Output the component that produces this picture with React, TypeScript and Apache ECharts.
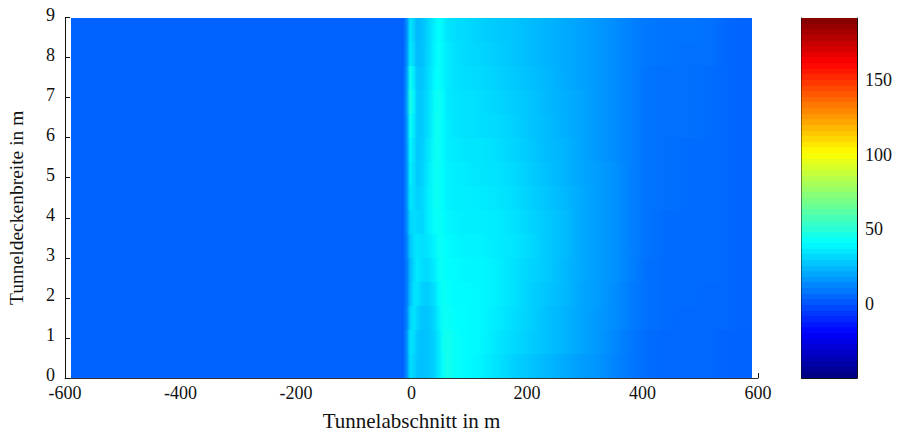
import React, { useEffect, useRef } from "react";
import * as echarts from "echarts";

// Station along the tunnel (m): field values are read at these positions
const stations = [-590, -22, -15, -8, -2, 4, 10, 18, 28, 40, 47, 55, 62, 75, 95, 120, 150, 177, 205, 235, 265, 292, 320, 350, 380, 408, 440, 480, 522, 545, 590];
// Band centres over the tunnel ceiling width (m), top to bottom
const widths = [8.7, 8.1, 7.5, 6.9, 6.3, 5.7, 5.1, 4.5, 3.9, 3.3, 2.7, 2.1, 1.5, 0.9, 0.3];
const bandHalf = 0.3;

const row87 = [4, 4, 3, 14, 35, 30, 24, 26, 31, 38, 41, 38, 35, 33, 32, 30, 28, 27, 25, 23, 21, 19, 17, 14, 11, 9, 8, 8, 7, 5, 4];
const row81 = [4, 4, 3, 15, 36, 31, 25, 26, 31, 39, 42, 39, 36, 34, 32, 31, 29, 27, 25, 23, 21, 19, 17, 14, 11, 9, 8, 7, 7, 5, 4];
const row75 = [4, 4, 3, 18, 44, 36, 27, 27, 32, 40, 42, 39, 36, 34, 33, 32, 30, 28, 26, 24, 21, 19, 17, 14, 11, 8, 7, 7, 6, 5, 4];
const row69 = [4, 4, 3, 19, 47, 38, 28, 28, 33, 42, 44, 40, 36, 35, 34, 33, 31, 29, 27, 24, 22, 20, 17, 14, 11, 8, 7, 7, 6, 5, 4];
const row63 = [4, 4, 3, 17, 43, 36, 28, 28, 33, 43, 44, 40, 37, 35, 34, 33, 32, 30, 27, 25, 22, 20, 17, 14, 11, 8, 7, 7, 6, 5, 4];
const row57 = [4, 4, 3, 16, 39, 34, 28, 29, 35, 43, 44, 40, 37, 36, 35, 35, 33, 31, 28, 25, 23, 20, 17, 14, 11, 8, 7, 6, 6, 5, 4];
const row51 = [4, 4, 3, 15, 37, 33, 28, 30, 36, 43, 43, 40, 38, 37, 36, 35, 34, 32, 29, 26, 23, 20, 18, 15, 11, 8, 7, 6, 6, 5, 4];
const row45 = [4, 4, 3, 15, 35, 33, 30, 31, 37, 43, 43, 40, 38, 37, 37, 36, 35, 33, 30, 27, 24, 21, 18, 15, 11, 8, 7, 6, 6, 5, 4];
const row39 = [4, 4, 3, 14, 31, 33, 32, 31, 37, 42, 43, 41, 39, 38, 37, 37, 36, 34, 31, 28, 25, 21, 18, 15, 11, 8, 6, 6, 6, 5, 4];
const row33 = [4, 4, 3, 12, 27, 33, 35, 33, 35, 39, 43, 42, 40, 39, 38, 38, 36, 35, 32, 28, 25, 21, 18, 15, 11, 8, 6, 6, 6, 5, 4];
const row27 = [4, 4, 3, 10, 24, 32, 36, 33, 32, 37, 42, 43, 41, 40, 39, 39, 37, 34, 31, 28, 24, 21, 18, 15, 11, 7, 6, 6, 6, 5, 4];
const row21 = [4, 4, 3, 10, 25, 34, 35, 30, 29, 34, 40, 43, 42, 40, 40, 39, 37, 34, 30, 27, 24, 20, 18, 14, 10, 7, 6, 6, 5, 5, 4];
const row15 = [4, 4, 3, 12, 30, 35, 31, 27, 27, 32, 38, 43, 43, 41, 40, 39, 36, 33, 30, 26, 23, 20, 17, 14, 10, 7, 6, 5, 5, 5, 4];
const row09 = [4, 4, 3, 15, 34, 33, 28, 26, 27, 31, 36, 43, 45, 42, 40, 39, 35, 32, 29, 26, 23, 20, 17, 13, 9, 6, 5, 5, 5, 4, 4];
const row03 = [4, 4, 3, 14, 33, 31, 27, 26, 27, 31, 36, 42, 46, 42, 40, 38, 34, 30, 27, 24, 21, 18, 16, 12, 9, 6, 5, 5, 5, 4, 4];
const fieldRows = [row87, row81, row75, row69, row63, row57, row51, row45, row39, row33, row27, row21, row15, row09, row03];

const colorbarTicks = [0, 50, 100, 150];
const colorMin = -49.6;
const colorMax = 191.5;
const levelCount = 64;

const xName = "Tunnelabschnitt in m";
const yName = "Tunneldeckenbreite in m";

const FONT = '"Liberation Serif", serif';
const INK = "#111111";

function jet(t: number): string {
  const ramp = (c: number) => Math.round(255 * Math.max(0, Math.min(1, 1.5 - Math.abs(4 * t - c))));
  return `rgb(${ramp(3)},${ramp(2)},${ramp(1)})`;
}
const colorOf = (v: number) => jet((v - colorMin) / (colorMax - colorMin));

// [x0, x1, y0, y1, v0, v1]
const fieldCells: number[][] = [];
fieldRows.forEach((row, r) => {
  for (let i = 0; i < stations.length - 1; i++) {
    fieldCells.push([stations[i], stations[i + 1], widths[r] - bandHalf, widths[r] + bandHalf, row[i], row[i + 1]]);
  }
});
const barCells: number[][] = [];
for (let l = 0; l < levelCount; l++) {
  const step = (colorMax - colorMin) / levelCount;
  barCells.push([colorMin + l * step, colorMin + (l + 1) * step, (l + 0.5) / levelCount]);
}

export default function App() {
  const ref = useRef<HTMLDivElement>(null);
  useEffect(() => {
    document.body.style.margin = "0";
    const chart = echarts.init(ref.current!, undefined, { renderer: "svg" });
    const labelBase = { fontFamily: FONT, fontSize: 18, color: INK, lineHeight: 14 };
    chart.setOption({
      animation: false,
      backgroundColor: "#ffffff",
      grid: [
        { left: 65, top: 17.5, width: 693, height: 360.5, containLabel: false, outerBoundsMode: "none" },
        { left: 801.5, top: 18, width: 55.5, height: 360, containLabel: false, outerBoundsMode: "none" },
      ],
      xAxis: [
        {
          type: "value", gridIndex: 0, min: -600, max: 600, interval: 200,
          splitLine: { show: false },
          axisLine: { show: true, onZero: false, lineStyle: { color: "#333", width: 1 } },
          axisTick: { show: true, inside: true, length: 5, lineStyle: { color: INK } },
          axisLabel: { ...labelBase, margin: 8, showMinLabel: true, showMaxLabel: true, hideOverlap: false },
          name: xName, nameLocation: "middle", nameGap: 33,
          nameTextStyle: { fontFamily: FONT, fontSize: 21, color: INK, lineHeight: 20 },
        },
        {
          type: "value", gridIndex: 1, min: 0, max: 1, position: "bottom",
          splitLine: { show: false },
          axisLine: { show: true, onZero: false, lineStyle: { color: INK } },
          axisTick: { show: false }, axisLabel: { show: false },
        },
        {
          type: "value", gridIndex: 1, min: 0, max: 1, position: "top",
          splitLine: { show: false },
          axisLine: { show: true, onZero: false, lineStyle: { color: "#555" } },
          axisTick: { show: false }, axisLabel: { show: false },
        },
      ],
      yAxis: [
        {
          type: "value", gridIndex: 0, min: 0, max: 9, interval: 1,
          splitLine: { show: false },
          axisLine: { show: true, onZero: false, lineStyle: { color: INK, width: 1 } },
          axisTick: { show: true, inside: true, length: 5, lineStyle: { color: INK } },
          axisLabel: { ...labelBase, margin: 10, lineHeight: 6, verticalAlign: "bottom" },
          name: yName, nameLocation: "middle", nameGap: 39, nameRotate: 90,
          nameTextStyle: { fontFamily: FONT, fontSize: 19.5, color: INK, padding: [0, 20, 0, 0] },
        },
        {
          type: "value", gridIndex: 1, min: colorMin, max: colorMax, position: "right",
          splitLine: { show: false },
          axisLine: { show: true, onZero: false, lineStyle: { color: INK } },
          axisTick: { show: true, inside: true, length: 5, customValues: colorbarTicks, lineStyle: { color: INK } },
          axisLabel: { ...labelBase, margin: 8, customValues: colorbarTicks },
        },
        {
          type: "value", gridIndex: 1, min: colorMin, max: colorMax, position: "left",
          splitLine: { show: false },
          axisLine: { show: true, onZero: false, lineStyle: { color: INK } },
          axisTick: { show: true, inside: true, length: 5, customValues: colorbarTicks, lineStyle: { color: INK } },
          axisLabel: { show: false },
        },
      ],
      series: [
        {
          type: "custom", coordinateSystem: "cartesian2d", xAxisIndex: 0, yAxisIndex: 0,
          silent: true, clip: true,
          data: fieldCells,
          dimensions: ["x0", "x1", "y0", "y1", "v0", "v1"],
          encode: { x: [0, 1], y: [2, 3] },
          renderItem: (_: any, api: any) => {
            const p0 = api.coord([api.value(0), api.value(3)]);
            const p1 = api.coord([api.value(1), api.value(2)]);
            const x = Math.round(p0[0]);
            const y = Math.round(p0[1]);
            const w = Math.round(p1[0]) - x;
            const h = Math.round(p1[1]) - y;
            return {
              type: "rect",
              shape: { x, y, width: w, height: h },
              style: {
                fill: new echarts.graphic.LinearGradient(0, 0, 1, 0, [
                  { offset: 0, color: colorOf(api.value(4)) },
                  { offset: 1, color: colorOf(api.value(5)) },
                ]),
                stroke: null,
              },
            };
          },
        },
        {
          type: "custom", coordinateSystem: "cartesian2d", xAxisIndex: 1, yAxisIndex: 1,
          silent: true, clip: true,
          data: barCells,
          encode: { y: [0, 1] },
          renderItem: (_: any, api: any) => {
            const a = api.coord([0, api.value(1)]);
            const b = api.coord([1, api.value(0)]);
            const y = Math.round(a[1]);
            return {
              type: "rect",
              shape: { x: a[0], y, width: b[0] - a[0], height: Math.round(b[1]) - y },
              style: { fill: jet(api.value(2)), stroke: null },
            };
          },
        },
      ],
    });
    return () => chart.dispose();
  }, []);
  return <div ref={ref} style={{ position: "fixed", left: 0, top: 0, width: 898, height: 433 }} />;
}
